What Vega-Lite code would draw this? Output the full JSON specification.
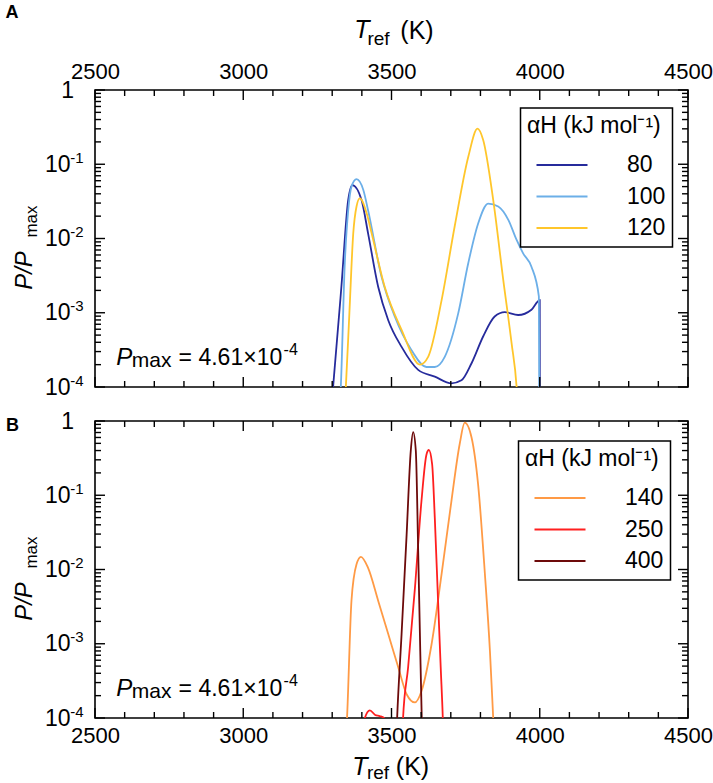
{
  "$schema": "https://vega.github.io/schema/vega-lite/v6.json",
  "padding": {"left": 4, "top": 2, "right": 5, "bottom": 2},
  "config": {
    "view": {"stroke": "black", "strokeWidth": 1.6},
    "axis": {
      "domain": false,
      "grid": false,
      "labelColor": "black",
      "titleColor": "black",
      "labelFont": "Liberation Sans",
      "titleFont": "Liberation Sans",
      "labelFontSize": 22,
      "titleFontWeight": "normal"
    },
    "rule": {"color": "black", "strokeWidth": 1.4, "opacity": 1},
    "legend": {
      "strokeColor": "black",
      "strokeWidth": 1.5,
      "padding": 6.5,
      "titleFont": "Liberation Sans",
      "titleFontSize": 23,
      "titleFontWeight": "normal",
      "titleColor": "black",
      "titlePadding": 16,
      "labelFont": "Liberation Sans",
      "labelFontSize": 23,
      "labelColor": "black",
      "rowPadding": 7.5,
      "symbolType": "M-3,0H3",
      "symbolSize": 289,
      "symbolStrokeWidth": 2,
      "symbolOffset": 23.5,
      "labelOffset": 53.5
    }
  },
  "datasets": {
    "xmaj": [{"t": 2500}, {"t": 3000}, {"t": 3500}, {"t": 4000}, {"t": 4500}],
    "xmin": [{"t": 2600}, {"t": 2700}, {"t": 2800}, {"t": 2900}, {"t": 3100}, {"t": 3200}, {"t": 3300}, {"t": 3400}, {"t": 3600}, {"t": 3700}, {"t": 3800}, {"t": 3900}, {"t": 4100}, {"t": 4200}, {"t": 4300}, {"t": 4400}],
    "ymaj": [{"t": 1}, {"t": 0.1}, {"t": 0.01}, {"t": 0.001}, {"t": 0.0001}],
    "ymin": [
      {"t": 0.9}, {"t": 0.8}, {"t": 0.7}, {"t": 0.6}, {"t": 0.5}, {"t": 0.4}, {"t": 0.3}, {"t": 0.2},
      {"t": 0.09}, {"t": 0.08}, {"t": 0.07}, {"t": 0.06}, {"t": 0.05}, {"t": 0.04}, {"t": 0.03}, {"t": 0.02},
      {"t": 0.009}, {"t": 0.008}, {"t": 0.007}, {"t": 0.006}, {"t": 0.005}, {"t": 0.004}, {"t": 0.003}, {"t": 0.002},
      {"t": 0.0009}, {"t": 0.0008}, {"t": 0.0007}, {"t": 0.0006}, {"t": 0.0005}, {"t": 0.0004}, {"t": 0.0003}, {"t": 0.0002}
    ],
    "a": [
      {"T": 3279, "p": 0.00001, "aH": "80"},
      {"T": 3303, "p": 0.0001, "aH": "80"},
      {"T": 3331, "p": 0.00224, "aH": "80"},
      {"T": 3354, "p": 0.033, "aH": "80"},
      {"T": 3368, "p": 0.0525, "aH": "80"},
      {"T": 3399, "p": 0.033, "aH": "80"},
      {"T": 3421, "p": 0.01175, "aH": "80"},
      {"T": 3455, "p": 0.00224, "aH": "80"},
      {"T": 3489, "p": 0.000794, "aH": "80"},
      {"T": 3534, "p": 0.000347, "aH": "80"},
      {"T": 3590, "p": 0.00017, "aH": "80"},
      {"T": 3646, "p": 0.000138, "aH": "80"},
      {"T": 3702, "p": 0.000112, "aH": "80"},
      {"T": 3736, "p": 0.000123, "aH": "80"},
      {"T": 3770, "p": 0.000209, "aH": "80"},
      {"T": 3809, "p": 0.000479, "aH": "80"},
      {"T": 3848, "p": 0.000891, "aH": "80"},
      {"T": 3882, "p": 0.00102, "aH": "80"},
      {"T": 3927, "p": 0.000933, "aH": "80"},
      {"T": 3972, "p": 0.0011, "aH": "80"},
      {"T": 4000, "p": 0.00148, "aH": "80"},
      {"T": 4000.5, "p": 0.000001, "aH": "80"},
      {"T": 3305, "p": 0.00001, "aH": "100"},
      {"T": 3329, "p": 0.0001, "aH": "100"},
      {"T": 3342, "p": 0.0042, "aH": "100"},
      {"T": 3354, "p": 0.024, "aH": "100"},
      {"T": 3365, "p": 0.05, "aH": "100"},
      {"T": 3382, "p": 0.063, "aH": "100"},
      {"T": 3405, "p": 0.045, "aH": "100"},
      {"T": 3421, "p": 0.024, "aH": "100"},
      {"T": 3466, "p": 0.0031, "aH": "100"},
      {"T": 3511, "p": 0.00089, "aH": "100"},
      {"T": 3567, "p": 0.000316, "aH": "100"},
      {"T": 3618, "p": 0.000186, "aH": "100"},
      {"T": 3646, "p": 0.000186, "aH": "100"},
      {"T": 3680, "p": 0.000257, "aH": "100"},
      {"T": 3725, "p": 0.00098, "aH": "100"},
      {"T": 3759, "p": 0.00468, "aH": "100"},
      {"T": 3792, "p": 0.0158, "aH": "100"},
      {"T": 3826, "p": 0.0295, "aH": "100"},
      {"T": 3860, "p": 0.0269, "aH": "100"},
      {"T": 3894, "p": 0.0178, "aH": "100"},
      {"T": 3922, "p": 0.00955, "aH": "100"},
      {"T": 3944, "p": 0.0063, "aH": "100"},
      {"T": 3972, "p": 0.00417, "aH": "100"},
      {"T": 3997, "p": 0.00166, "aH": "100"},
      {"T": 4000.5, "p": 0.000001, "aH": "100"},
      {"T": 3322, "p": 0.00001, "aH": "120"},
      {"T": 3346, "p": 0.0001, "aH": "120"},
      {"T": 3358, "p": 0.001, "aH": "120"},
      {"T": 3371, "p": 0.01175, "aH": "120"},
      {"T": 3382, "p": 0.027, "aH": "120"},
      {"T": 3393, "p": 0.0347, "aH": "120"},
      {"T": 3416, "p": 0.022, "aH": "120"},
      {"T": 3433, "p": 0.01175, "aH": "120"},
      {"T": 3477, "p": 0.00224, "aH": "120"},
      {"T": 3534, "p": 0.000589, "aH": "120"},
      {"T": 3596, "p": 0.0002, "aH": "120"},
      {"T": 3624, "p": 0.000257, "aH": "120"},
      {"T": 3669, "p": 0.00148, "aH": "120"},
      {"T": 3713, "p": 0.0145, "aH": "120"},
      {"T": 3759, "p": 0.126, "aH": "120"},
      {"T": 3790, "p": 0.302, "aH": "120"},
      {"T": 3809, "p": 0.214, "aH": "120"},
      {"T": 3843, "p": 0.0331, "aH": "120"},
      {"T": 3877, "p": 0.00275, "aH": "120"},
      {"T": 3905, "p": 0.000389, "aH": "120"},
      {"T": 3922, "p": 0.0001, "aH": "120"},
      {"T": 3935, "p": 0.00001, "aH": "120"}
    ],
    "b": [
      {"T": 3326, "p": 0.00001, "aH": "140"},
      {"T": 3350, "p": 0.0001, "aH": "140"},
      {"T": 3365, "p": 0.0038, "aH": "140"},
      {"T": 3382, "p": 0.01175, "aH": "140"},
      {"T": 3397, "p": 0.0148, "aH": "140"},
      {"T": 3421, "p": 0.0105, "aH": "140"},
      {"T": 3455, "p": 0.0038, "aH": "140"},
      {"T": 3489, "p": 0.00135, "aH": "140"},
      {"T": 3523, "p": 0.000479, "aH": "140"},
      {"T": 3551, "p": 0.000209, "aH": "140"},
      {"T": 3579, "p": 0.000162, "aH": "140"},
      {"T": 3601, "p": 0.000229, "aH": "140"},
      {"T": 3635, "p": 0.000977, "aH": "140"},
      {"T": 3669, "p": 0.0087, "aH": "140"},
      {"T": 3702, "p": 0.083, "aH": "140"},
      {"T": 3730, "p": 0.49, "aH": "140"},
      {"T": 3747, "p": 0.95, "aH": "140"},
      {"T": 3770, "p": 0.6, "aH": "140"},
      {"T": 3792, "p": 0.141, "aH": "140"},
      {"T": 3815, "p": 0.0087, "aH": "140"},
      {"T": 3832, "p": 0.000794, "aH": "140"},
      {"T": 3843, "p": 0.0001, "aH": "140"},
      {"T": 3855, "p": 0.00001, "aH": "140"},
      {"T": 3395, "p": 0.00001, "aH": "250"},
      {"T": 3410, "p": 0.0001, "aH": "250"},
      {"T": 3427, "p": 0.000127, "aH": "250"},
      {"T": 3445, "p": 0.00011, "aH": "250"},
      {"T": 3460, "p": 0.000106, "aH": "250"},
      {"T": 3475, "p": 0.0001, "aH": "250"},
      {"T": 3495, "p": 0.00001, "aH": "250"},
      {"T": 3530, "p": 0.00001, "aH": "250"},
      {"T": 3539, "p": 0.0001, "aH": "250"},
      {"T": 3556, "p": 0.000479, "aH": "250"},
      {"T": 3579, "p": 0.0056, "aH": "250"},
      {"T": 3601, "p": 0.083, "aH": "250"},
      {"T": 3618, "p": 0.355, "aH": "250"},
      {"T": 3626, "p": 0.407, "aH": "250"},
      {"T": 3637, "p": 0.263, "aH": "250"},
      {"T": 3646, "p": 0.05, "aH": "250"},
      {"T": 3657, "p": 0.0038, "aH": "250"},
      {"T": 3666, "p": 0.000479, "aH": "250"},
      {"T": 3673, "p": 0.0001, "aH": "250"},
      {"T": 3680, "p": 0.00001, "aH": "250"},
      {"T": 3510, "p": 0.00001, "aH": "400"},
      {"T": 3519, "p": 0.0001, "aH": "400"},
      {"T": 3534, "p": 0.00135, "aH": "400"},
      {"T": 3551, "p": 0.0295, "aH": "400"},
      {"T": 3565, "p": 0.398, "aH": "400"},
      {"T": 3573, "p": 0.71, "aH": "400"},
      {"T": 3582, "p": 0.398, "aH": "400"},
      {"T": 3590, "p": 0.0178, "aH": "400"},
      {"T": 3597, "p": 0.000794, "aH": "400"},
      {"T": 3602, "p": 0.0001, "aH": "400"},
      {"T": 3608, "p": 0.00001, "aH": "400"}
    ]
  },
  "resolve": {"scale": {"x": "independent", "y": "independent", "color": "independent"}, "legend": {"color": "independent"}},
  "spacing": 9,
  "vconcat": [
    {
      "width": 593,
      "height": 297,
      "resolve": {"axis": {"x": "independent", "y": "independent"}},
      "layer": [
        {
          "data": {"name": "a"},
          "mark": {"type": "line", "clip": true, "strokeWidth": 1.8, "interpolate": "monotone"},
          "encoding": {
            "x": {
              "field": "T", "type": "quantitative",
              "scale": {"domain": [2500, 4500], "nice": false, "zero": false},
              "axis": {
                "orient": "top", "values": [2500, 3000, 3500, 4000, 4500], "format": "d",
                "ticks": false, "tickSize": 0, "labelPadding": 6.5,
                "labelFlush": false, "labelOverlap": false, "labelBound": false,
                "title": "T", "titleFontSize": 25, "titleFontStyle": "italic",
                "titleX": 266.5, "titleY": -61, "titleAlign": "center", "titleBaseline": "middle", "titleAngle": 0
              }
            },
            "y": {
              "field": "p", "type": "quantitative",
              "scale": {"type": "log", "domain": [0.0001, 1], "nice": false},
              "axis": {
                "orient": "left", "values": [1, 0.1, 0.01, 0.001, 0.0001],
                "labelExpr": "datum.value == 1 ? '1' : '10'",
                "ticks": false, "tickSize": 0,
                "labelPadding": {"condition": {"test": "datum.value == 1", "value": 21.5}, "value": 25},
                "labelBaseline": "middle", "labelFontSize": 23,
                "labelFlush": false, "labelOverlap": false, "labelBound": false,
                "title": "P/P", "titleFontSize": 24, "titleFontStyle": "italic",
                "titleX": -71, "titleY": 180, "titleAngle": -90, "titleAlign": "center", "titleBaseline": "middle"
              }
            },
            "color": {
              "field": "aH", "type": "nominal",
              "scale": {"domain": ["80", "100", "120"], "range": ["#262b9c", "#6cafe8", "#ffc62b"]},
              "legend": {
                "title": "αH (kJ mol⁻¹)",
                "orient": "none", "legendX": 425.5, "legendY": 18,
                "labelExpr": "datum.label == '80' ? ' 80' : datum.label"
              }
            }
          }
        },
        {
          "data": {"name": "xmaj"},
          "mark": {"type": "rule"},
          "encoding": {
            "x": {"field": "t", "type": "quantitative", "scale": {"domain": [2500, 4500], "nice": false, "zero": false}, "axis": null},
            "y": {"datum": 1, "type": "quantitative", "scale": {"type": "log", "domain": [0.0001, 1], "nice": false}, "axis": null},
            "y2": {"datum": 0.7333}
          }
        },
        {
          "data": {"name": "xmaj"},
          "mark": {"type": "rule"},
          "encoding": {
            "x": {"field": "t", "type": "quantitative", "scale": {"domain": [2500, 4500], "nice": false, "zero": false}, "axis": null},
            "y": {"datum": 0.0001, "type": "quantitative", "scale": {"type": "log", "domain": [0.0001, 1], "nice": false}, "axis": null},
            "y2": {"datum": 0.00013637}
          }
        },
        {
          "data": {"name": "xmin"},
          "mark": {"type": "rule"},
          "encoding": {
            "x": {"field": "t", "type": "quantitative", "scale": {"domain": [2500, 4500], "nice": false, "zero": false}, "axis": null},
            "y": {"datum": 1, "type": "quantitative", "scale": {"type": "log", "domain": [0.0001, 1], "nice": false}, "axis": null},
            "y2": {"datum": 0.8301}
          }
        },
        {
          "data": {"name": "xmin"},
          "mark": {"type": "rule"},
          "encoding": {
            "x": {"field": "t", "type": "quantitative", "scale": {"domain": [2500, 4500], "nice": false, "zero": false}, "axis": null},
            "y": {"datum": 0.0001, "type": "quantitative", "scale": {"type": "log", "domain": [0.0001, 1], "nice": false}, "axis": null},
            "y2": {"datum": 0.00012047}
          }
        },
        {
          "data": {"name": "ymaj"},
          "mark": {"type": "rule"},
          "encoding": {
            "x": {"datum": 2500, "type": "quantitative", "scale": {"domain": [2500, 4500], "nice": false, "zero": false}, "axis": null},
            "x2": {"datum": 2533.7},
            "y": {"field": "t", "type": "quantitative", "scale": {"type": "log", "domain": [0.0001, 1], "nice": false}, "axis": null}
          }
        },
        {
          "data": {"name": "ymaj"},
          "mark": {"type": "rule"},
          "encoding": {
            "x": {"datum": 4500, "type": "quantitative", "scale": {"domain": [2500, 4500], "nice": false, "zero": false}, "axis": null},
            "x2": {"datum": 4466.3},
            "y": {"field": "t", "type": "quantitative", "scale": {"type": "log", "domain": [0.0001, 1], "nice": false}, "axis": null}
          }
        },
        {
          "data": {"name": "ymin"},
          "mark": {"type": "rule"},
          "encoding": {
            "x": {"datum": 2500, "type": "quantitative", "scale": {"domain": [2500, 4500], "nice": false, "zero": false}, "axis": null},
            "x2": {"datum": 2520.2},
            "y": {"field": "t", "type": "quantitative", "scale": {"type": "log", "domain": [0.0001, 1], "nice": false}, "axis": null}
          }
        },
        {
          "data": {"name": "ymin"},
          "mark": {"type": "rule"},
          "encoding": {
            "x": {"datum": 4500, "type": "quantitative", "scale": {"domain": [2500, 4500], "nice": false, "zero": false}, "axis": null},
            "x2": {"datum": 4479.8},
            "y": {"field": "t", "type": "quantitative", "scale": {"type": "log", "domain": [0.0001, 1], "nice": false}, "axis": null}
          }
        },
        {
          "data": {"values": [{}]},
          "mark": {"type": "point", "opacity": 0},
          "encoding": {
            "x": {"datum": 3000, "type": "quantitative", "scale": {"domain": [2500, 4500], "nice": false, "zero": false},
              "axis": {"orient": "top", "ticks": false, "labels": false, "title": "ref", "titleFontSize": 19,
                "titleX": 283, "titleY": -52, "titleAlign": "center", "titleBaseline": "middle", "titleAngle": 0}},
            "y": {"datum": 0.01, "type": "quantitative", "scale": {"type": "log", "domain": [0.0001, 1], "nice": false},
              "axis": {
                "orient": "left", "values": [0.1, 0.01, 0.001, 0.0001], "ticks": false, "tickSize": 0,
                "labelExpr": "datum.value == 0.1 ? '-1' : datum.value == 0.01 ? '-2' : datum.value == 0.001 ? '-3' : '-4'",
                "labelPadding": 12, "labelFontSize": 15, "labelOffset": -7, "labelBaseline": "middle",
                "labelFlush": false, "labelOverlap": false, "labelBound": false,
                "title": "max", "titleFontSize": 17,
                "titleX": -63.5, "titleY": 131, "titleAngle": -90, "titleAlign": "center", "titleBaseline": "middle"
              }}
          }
        },
        {
          "data": {"values": [{}]},
          "mark": {"type": "point", "opacity": 0},
          "encoding": {
            "x": {"datum": 3000, "type": "quantitative", "scale": {"domain": [2500, 4500], "nice": false, "zero": false},
              "axis": {"orient": "top", "ticks": false, "labels": false, "title": "(K)", "titleFontSize": 25,
                "titleX": 321.5, "titleY": -60, "titleAlign": "center", "titleBaseline": "middle", "titleAngle": 0}},
            "y": {"datum": 0.01, "type": "quantitative", "scale": {"type": "log", "domain": [0.0001, 1], "nice": false},
              "axis": {"orient": "left", "ticks": false, "labels": false, "title": "A", "titleFontSize": 18, "titleFontWeight": "bold",
                "titleX": -83.5, "titleY": -78, "titleAngle": 0, "titleAlign": "center", "titleBaseline": "middle"}}
          }
        },
        {
          "data": {"values": [{}]},
          "mark": {"type": "text", "text": "P", "font": "Liberation Sans", "fontSize": 24, "fontStyle": "italic", "align": "left", "baseline": "alphabetic"},
          "encoding": {
            "x": {"datum": 2572, "type": "quantitative", "scale": {"domain": [2500, 4500], "nice": false, "zero": false}, "axis": null},
            "y": {"datum": 0.000198, "type": "quantitative", "scale": {"type": "log", "domain": [0.0001, 1], "nice": false}, "axis": null}
          }
        },
        {
          "data": {"values": [{}]},
          "mark": {"type": "text", "text": "max", "font": "Liberation Sans", "fontSize": 21, "align": "left", "baseline": "alphabetic"},
          "encoding": {
            "x": {"datum": 2624, "type": "quantitative", "scale": {"domain": [2500, 4500], "nice": false, "zero": false}, "axis": null},
            "y": {"datum": 0.000186, "type": "quantitative", "scale": {"type": "log", "domain": [0.0001, 1], "nice": false}, "axis": null}
          }
        },
        {
          "data": {"values": [{}]},
          "mark": {"type": "text", "text": "= 4.61×10", "font": "Liberation Sans", "fontSize": 23, "align": "left", "baseline": "alphabetic"},
          "encoding": {
            "x": {"datum": 2782, "type": "quantitative", "scale": {"domain": [2500, 4500], "nice": false, "zero": false}, "axis": null},
            "y": {"datum": 0.000198, "type": "quantitative", "scale": {"type": "log", "domain": [0.0001, 1], "nice": false}, "axis": null}
          }
        },
        {
          "data": {"values": [{}]},
          "mark": {"type": "text", "text": "-4", "font": "Liberation Sans", "fontSize": 16, "align": "left", "baseline": "alphabetic"},
          "encoding": {
            "x": {"datum": 3136, "type": "quantitative", "scale": {"domain": [2500, 4500], "nice": false, "zero": false}, "axis": null},
            "y": {"datum": 0.00027, "type": "quantitative", "scale": {"type": "log", "domain": [0.0001, 1], "nice": false}, "axis": null}
          }
        }
      ]
    },
    {
      "width": 593,
      "height": 297,
      "resolve": {"axis": {"x": "independent", "y": "independent"}},
      "layer": [
        {
          "data": {"name": "b"},
          "mark": {"type": "line", "clip": true, "strokeWidth": 1.8, "interpolate": "monotone"},
          "encoding": {
            "x": {
              "field": "T", "type": "quantitative",
              "scale": {"domain": [2500, 4500], "nice": false, "zero": false},
              "axis": {
                "orient": "bottom", "values": [2500, 3000, 3500, 4000, 4500], "format": "d",
                "ticks": false, "tickSize": 0, "labelPadding": 7,
                "labelFlush": false, "labelOverlap": false, "labelBound": false,
                "title": "T", "titleFontSize": 25, "titleFontStyle": "italic",
                "titleX": 264.5, "titleY": 48, "titleAlign": "center", "titleBaseline": "middle", "titleAngle": 0
              }
            },
            "y": {
              "field": "p", "type": "quantitative",
              "scale": {"type": "log", "domain": [0.0001, 1], "nice": false},
              "axis": {
                "orient": "left", "values": [1, 0.1, 0.01, 0.001, 0.0001],
                "labelExpr": "datum.value == 1 ? '1' : '10'",
                "ticks": false, "tickSize": 0,
                "labelPadding": {"condition": {"test": "datum.value == 1", "value": 21.5}, "value": 25},
                "labelBaseline": "middle", "labelFontSize": 23,
                "labelFlush": false, "labelOverlap": false, "labelBound": false,
                "title": "P/P", "titleFontSize": 24, "titleFontStyle": "italic",
                "titleX": -71, "titleY": 180, "titleAngle": -90, "titleAlign": "center", "titleBaseline": "middle"
              }
            },
            "color": {
              "field": "aH", "type": "nominal",
              "scale": {"domain": ["140", "250", "400"], "range": ["#ff9a45", "#ff1f1f", "#6d0a0a"]},
              "legend": {
                "title": "αH (kJ mol⁻¹)",
                "orient": "none", "legendX": 423.5, "legendY": 20
              }
            }
          }
        },
        {
          "data": {"name": "xmaj"},
          "mark": {"type": "rule"},
          "encoding": {
            "x": {"field": "t", "type": "quantitative", "scale": {"domain": [2500, 4500], "nice": false, "zero": false}, "axis": null},
            "y": {"datum": 1, "type": "quantitative", "scale": {"type": "log", "domain": [0.0001, 1], "nice": false}, "axis": null},
            "y2": {"datum": 0.7333}
          }
        },
        {
          "data": {"name": "xmaj"},
          "mark": {"type": "rule"},
          "encoding": {
            "x": {"field": "t", "type": "quantitative", "scale": {"domain": [2500, 4500], "nice": false, "zero": false}, "axis": null},
            "y": {"datum": 0.0001, "type": "quantitative", "scale": {"type": "log", "domain": [0.0001, 1], "nice": false}, "axis": null},
            "y2": {"datum": 0.00013637}
          }
        },
        {
          "data": {"name": "xmin"},
          "mark": {"type": "rule"},
          "encoding": {
            "x": {"field": "t", "type": "quantitative", "scale": {"domain": [2500, 4500], "nice": false, "zero": false}, "axis": null},
            "y": {"datum": 1, "type": "quantitative", "scale": {"type": "log", "domain": [0.0001, 1], "nice": false}, "axis": null},
            "y2": {"datum": 0.8301}
          }
        },
        {
          "data": {"name": "xmin"},
          "mark": {"type": "rule"},
          "encoding": {
            "x": {"field": "t", "type": "quantitative", "scale": {"domain": [2500, 4500], "nice": false, "zero": false}, "axis": null},
            "y": {"datum": 0.0001, "type": "quantitative", "scale": {"type": "log", "domain": [0.0001, 1], "nice": false}, "axis": null},
            "y2": {"datum": 0.00012047}
          }
        },
        {
          "data": {"name": "ymaj"},
          "mark": {"type": "rule"},
          "encoding": {
            "x": {"datum": 2500, "type": "quantitative", "scale": {"domain": [2500, 4500], "nice": false, "zero": false}, "axis": null},
            "x2": {"datum": 2533.7},
            "y": {"field": "t", "type": "quantitative", "scale": {"type": "log", "domain": [0.0001, 1], "nice": false}, "axis": null}
          }
        },
        {
          "data": {"name": "ymaj"},
          "mark": {"type": "rule"},
          "encoding": {
            "x": {"datum": 4500, "type": "quantitative", "scale": {"domain": [2500, 4500], "nice": false, "zero": false}, "axis": null},
            "x2": {"datum": 4466.3},
            "y": {"field": "t", "type": "quantitative", "scale": {"type": "log", "domain": [0.0001, 1], "nice": false}, "axis": null}
          }
        },
        {
          "data": {"name": "ymin"},
          "mark": {"type": "rule"},
          "encoding": {
            "x": {"datum": 2500, "type": "quantitative", "scale": {"domain": [2500, 4500], "nice": false, "zero": false}, "axis": null},
            "x2": {"datum": 2520.2},
            "y": {"field": "t", "type": "quantitative", "scale": {"type": "log", "domain": [0.0001, 1], "nice": false}, "axis": null}
          }
        },
        {
          "data": {"name": "ymin"},
          "mark": {"type": "rule"},
          "encoding": {
            "x": {"datum": 4500, "type": "quantitative", "scale": {"domain": [2500, 4500], "nice": false, "zero": false}, "axis": null},
            "x2": {"datum": 4479.8},
            "y": {"field": "t", "type": "quantitative", "scale": {"type": "log", "domain": [0.0001, 1], "nice": false}, "axis": null}
          }
        },
        {
          "data": {"values": [{}]},
          "mark": {"type": "point", "opacity": 0},
          "encoding": {
            "x": {"datum": 3000, "type": "quantitative", "scale": {"domain": [2500, 4500], "nice": false, "zero": false},
              "axis": {"orient": "bottom", "ticks": false, "labels": false, "title": "ref", "titleFontSize": 19,
                "titleX": 282.5, "titleY": 54, "titleAlign": "center", "titleBaseline": "middle", "titleAngle": 0}},
            "y": {"datum": 0.01, "type": "quantitative", "scale": {"type": "log", "domain": [0.0001, 1], "nice": false},
              "axis": {
                "orient": "left", "values": [0.1, 0.01, 0.001, 0.0001], "ticks": false, "tickSize": 0,
                "labelExpr": "datum.value == 0.1 ? '-1' : datum.value == 0.01 ? '-2' : datum.value == 0.001 ? '-3' : '-4'",
                "labelPadding": 12, "labelFontSize": 15, "labelOffset": -7, "labelBaseline": "middle",
                "labelFlush": false, "labelOverlap": false, "labelBound": false,
                "title": "max", "titleFontSize": 17,
                "titleX": -63.5, "titleY": 131, "titleAngle": -90, "titleAlign": "center", "titleBaseline": "middle"
              }}
          }
        },
        {
          "data": {"values": [{}]},
          "mark": {"type": "point", "opacity": 0},
          "encoding": {
            "x": {"datum": 3000, "type": "quantitative", "scale": {"domain": [2500, 4500], "nice": false, "zero": false},
              "axis": {"orient": "bottom", "ticks": false, "labels": false, "title": "(K)", "titleFontSize": 25,
                "titleX": 317, "titleY": 48, "titleAlign": "center", "titleBaseline": "middle", "titleAngle": 0}},
            "y": {"datum": 0.01, "type": "quantitative", "scale": {"type": "log", "domain": [0.0001, 1], "nice": false},
              "axis": {"orient": "left", "ticks": false, "labels": false, "title": "B", "titleFontSize": 18, "titleFontWeight": "bold",
                "titleX": -83, "titleY": 4, "titleAngle": 0, "titleAlign": "center", "titleBaseline": "middle"}}
          }
        },
        {
          "data": {"values": [{}]},
          "mark": {"type": "text", "text": "P", "font": "Liberation Sans", "fontSize": 24, "fontStyle": "italic", "align": "left", "baseline": "alphabetic"},
          "encoding": {
            "x": {"datum": 2572, "type": "quantitative", "scale": {"domain": [2500, 4500], "nice": false, "zero": false}, "axis": null},
            "y": {"datum": 0.000198, "type": "quantitative", "scale": {"type": "log", "domain": [0.0001, 1], "nice": false}, "axis": null}
          }
        },
        {
          "data": {"values": [{}]},
          "mark": {"type": "text", "text": "max", "font": "Liberation Sans", "fontSize": 21, "align": "left", "baseline": "alphabetic"},
          "encoding": {
            "x": {"datum": 2624, "type": "quantitative", "scale": {"domain": [2500, 4500], "nice": false, "zero": false}, "axis": null},
            "y": {"datum": 0.000186, "type": "quantitative", "scale": {"type": "log", "domain": [0.0001, 1], "nice": false}, "axis": null}
          }
        },
        {
          "data": {"values": [{}]},
          "mark": {"type": "text", "text": "= 4.61×10", "font": "Liberation Sans", "fontSize": 23, "align": "left", "baseline": "alphabetic"},
          "encoding": {
            "x": {"datum": 2782, "type": "quantitative", "scale": {"domain": [2500, 4500], "nice": false, "zero": false}, "axis": null},
            "y": {"datum": 0.000198, "type": "quantitative", "scale": {"type": "log", "domain": [0.0001, 1], "nice": false}, "axis": null}
          }
        },
        {
          "data": {"values": [{}]},
          "mark": {"type": "text", "text": "-4", "font": "Liberation Sans", "fontSize": 16, "align": "left", "baseline": "alphabetic"},
          "encoding": {
            "x": {"datum": 3136, "type": "quantitative", "scale": {"domain": [2500, 4500], "nice": false, "zero": false}, "axis": null},
            "y": {"datum": 0.00027, "type": "quantitative", "scale": {"type": "log", "domain": [0.0001, 1], "nice": false}, "axis": null}
          }
        }
      ]
    }
  ]
}
